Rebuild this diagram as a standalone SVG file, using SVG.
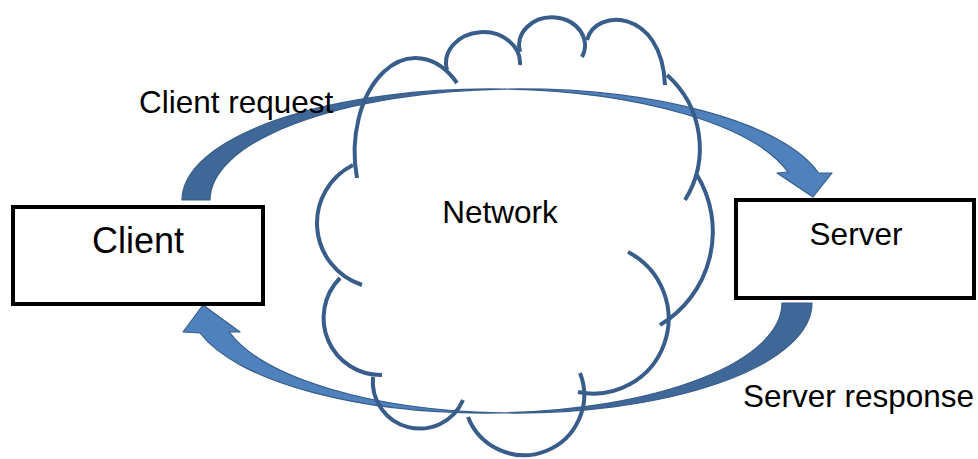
<svg xmlns="http://www.w3.org/2000/svg" width="978" height="459" viewBox="0 0 978 459">
<defs>
<style>
.box{fill:#fff;stroke:#000;stroke-width:4}
.cloud path{fill:none;stroke:#385D8A;stroke-width:4}
.back{fill:#3F6797;stroke:#385D8A;stroke-width:1.2;stroke-linejoin:round}
.front{fill:#4F81BD;stroke:#385D8A;stroke-width:1.2;stroke-linejoin:round}
text{font-family:"Liberation Sans",Arial,sans-serif;fill:#000}
.lbl{font-size:31.5px}
</style>
</defs>
<rect width="978" height="459" fill="#fff"/>
<g id="connectors">
 <g id="client-request">
  <path class="back" d="M182,200 A308,111 0 0 1 504.5,89.1 A309,111 0 0 0 210,200 Z"/>
  <path class="front" d="M504.5,89.1 A308,111 0 0 1 788,172 L777,173 L813,197 L832,173 L818.5,173 A309,111 0 0 0 504.5,89.1 Z"/>
 </g>
 <g id="server-response">
  <path class="back" d="M812,303 A296.6,110 0 0 1 500.4,412.9 A296.6,110 0 0 0 782,303 Z"/>
  <path class="front" d="M500.4,412.9 A296.6,110 0 0 1 200,333 L183,332 L203,305 L240,332 L229.3,332 A296.6,110 0 0 0 500.4,412.9 Z"/>
 </g>
</g>
<g id="network" class="cloud">
 <path d="M357,178 A61,94 0 0 1 457,83"/>
 <path d="M447,70 A37,31 0 1 1 520,65"/>
 <path d="M520,52 A33,28 0 1 1 582,57"/>
 <path d="M587,40 C595,8 662,8 665,85"/>
 <path d="M667,75 A98,98 0 0 1 685,200"/>
 <path d="M697,175 A109,109 0 0 1 660,325"/>
 <path d="M628,252 A75,75 0 0 1 578,392"/>
 <path d="M580,373 A60,60 0 1 1 468,417"/>
 <path d="M463,400 A47,47 0 0 1 373,377"/>
 <path d="M382,375 A57,57 0 0 1 340,278"/>
 <path d="M362,285 A65,65 0 0 1 353,165"/>
 <text x="500" y="223" class="lbl" text-anchor="middle">Network</text>
</g>
<g id="client">
 <rect class="box" x="13" y="207" width="250" height="97"/>
 <text x="138" y="253" font-size="36" text-anchor="middle">Client</text>
</g>
<g id="server">
 <rect class="box" x="736" y="200" width="238" height="98"/>
 <text x="856" y="245" class="lbl" text-anchor="middle">Server</text>
</g>
<g id="labels">
 <text x="139" y="113" class="lbl">Client request</text>
 <text x="743" y="407" class="lbl">Server response</text>
</g>
</svg>
